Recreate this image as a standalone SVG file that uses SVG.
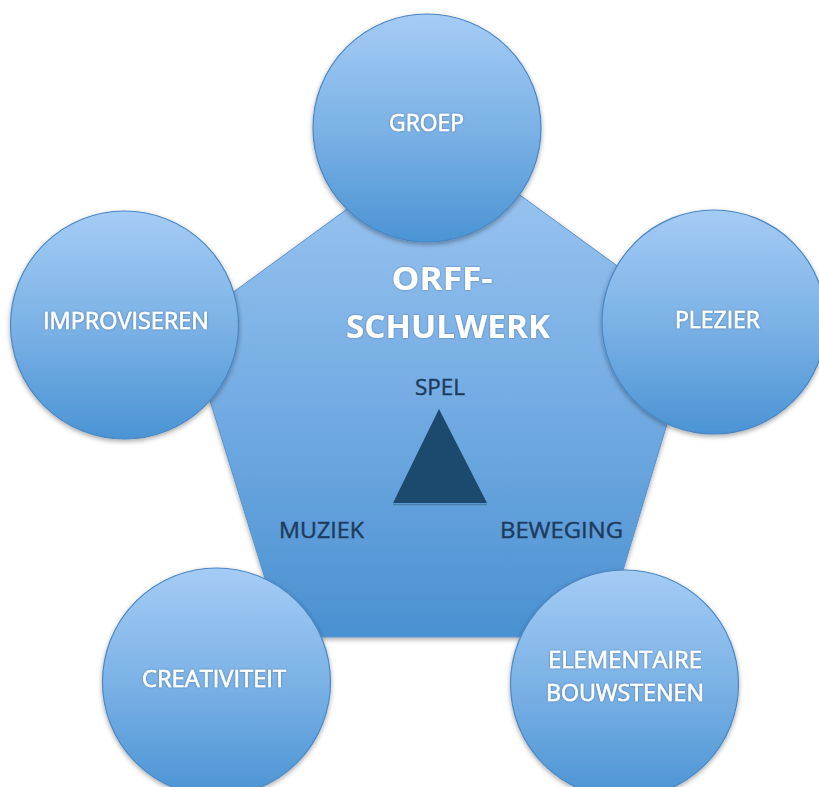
<svg xmlns="http://www.w3.org/2000/svg" width="819" height="787" viewBox="0 0 819 787">
<defs>
<linearGradient id="gCircle" x1="0" y1="0" x2="0" y2="1">
<stop offset="0" stop-color="#a4ccf5"/>
<stop offset="0.5" stop-color="#7cb2e6"/>
<stop offset="1" stop-color="#4b94d4"/>
</linearGradient>
<linearGradient id="gPent" x1="0" y1="0" x2="0" y2="1">
<stop offset="0" stop-color="#a0c8f2"/>
<stop offset="0.5" stop-color="#76ade4"/>
<stop offset="1" stop-color="#4a91d1"/>
</linearGradient>
<filter id="shadow" x="-20%" y="-20%" width="140%" height="140%">
<feGaussianBlur in="SourceAlpha" stdDeviation="2.5"/>
<feOffset dx="0" dy="1.5" result="b"/>
<feComponentTransfer><feFuncA type="linear" slope="0.35"/></feComponentTransfer>
<feMerge><feMergeNode/><feMergeNode in="SourceGraphic"/></feMerge>
</filter>
<filter id="glow" x="-10%" y="-30%" width="120%" height="160%">
<feGaussianBlur in="SourceAlpha" stdDeviation="1.2"/>
<feComponentTransfer><feFuncA type="linear" slope="0.35"/></feComponentTransfer>
<feMerge><feMergeNode/><feMergeNode in="SourceGraphic"/></feMerge>
</filter>
</defs>
<style>
.circ{fill:url(#gCircle);stroke:#4a87c4;stroke-width:1.2;filter:url(#shadow)}
.pent{fill:url(#gPent);stroke:#5a94cc;stroke-width:1;filter:url(#shadow)}
.lbl{font-family:"Open Sans","Liberation Sans",sans-serif;font-size:23px;fill:#ffffff;stroke:#ffffff;stroke-width:0.6;text-anchor:middle;filter:url(#glow)}
.title{font-family:"Open Sans","Liberation Sans",sans-serif;font-size:33px;font-weight:bold;fill:#ffffff;text-anchor:middle;filter:url(#glow)}
.dark{font-family:"Open Sans","Liberation Sans",sans-serif;font-size:22px;fill:#1d3a5c;stroke:#1d3a5c;stroke-width:0.4;text-anchor:middle}
</style>
<rect width="819" height="787" fill="#ffffff"/>
<g id="center">
<polygon class="pent" points="443,139 187,326 283,637 603,637 697,324"/>
<text class="title" x="442" y="290" textLength="101" lengthAdjust="spacingAndGlyphs">ORFF-</text>
<text class="title" x="448" y="338" textLength="204" lengthAdjust="spacingAndGlyphs">SCHULWERK</text>
<text class="dark" x="440" y="395" textLength="50" lengthAdjust="spacingAndGlyphs">SPEL</text>
<polygon points="439,409 393,503 487,503" fill="#1b4a6e"/>
<line x1="393" y1="504.5" x2="487" y2="504.5" stroke="#3a6a92" stroke-width="1.5" opacity="0.6"/>
<text class="dark" x="321.5" y="538" textLength="85" lengthAdjust="spacingAndGlyphs">MUZIEK</text>
<text class="dark" x="561.5" y="538" textLength="123" lengthAdjust="spacingAndGlyphs">BEWEGING</text>
</g>
<g id="groep">
<circle class="circ" cx="427" cy="128" r="114"/>
<text class="lbl" x="426.5" y="131" textLength="75" lengthAdjust="spacingAndGlyphs">GROEP</text>
</g>
<g id="improviseren">
<circle class="circ" cx="124.5" cy="325" r="114"/>
<text class="lbl" x="126" y="329" textLength="166" lengthAdjust="spacingAndGlyphs">IMPROVISEREN</text>
</g>
<g id="plezier">
<circle class="circ" cx="714" cy="322" r="112"/>
<text class="lbl" x="717.5" y="328" textLength="85" lengthAdjust="spacingAndGlyphs">PLEZIER</text>
</g>
<g id="creativiteit">
<circle class="circ" cx="216.5" cy="682" r="114"/>
<text class="lbl" x="214" y="687" textLength="144" lengthAdjust="spacingAndGlyphs">CREATIVITEIT</text>
</g>
<g id="elementaire-bouwstenen">
<circle class="circ" cx="624.5" cy="684" r="114"/>
<text class="lbl" x="625" y="668" textLength="154" lengthAdjust="spacingAndGlyphs">ELEMENTAIRE</text>
<text class="lbl" x="625" y="701" textLength="158" lengthAdjust="spacingAndGlyphs">BOUWSTENEN</text>
</g>
</svg>
